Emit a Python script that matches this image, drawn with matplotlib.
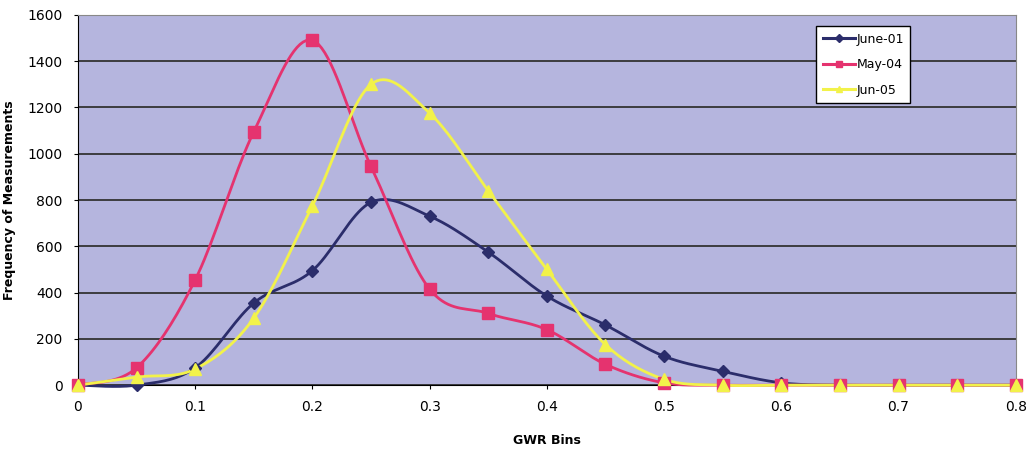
import numpy as np
import matplotlib
matplotlib.use("Agg")
import matplotlib.pyplot as plt

# GWR bins and frequency per survey
bins = [0, 0.05, 0.1, 0.15, 0.2, 0.25, 0.3, 0.35, 0.4, 0.45, 0.5, 0.55, 0.6, 0.65, 0.7, 0.75, 0.8]
june_01 = [0, 0, 75, 355, 495, 790, 730, 575, 385, 260, 125, 60, 10, 0, 0, 0, 0]
may_04 = [0, 75, 455, 1095, 1490, 945, 415, 310, 240, 90, 10, 0, 0, 0, 0, 0, 0]
jun_05 = [0, 35, 70, 290, 775, 1300, 1175, 840, 500, 175, 25, 0, 0, 0, 0, 0, 0]
labels = ["June-01", "May-04", "Jun-05"]


def smooth(x, y, n=20):
    # excel-like smoothed line (catmull-rom through the points)
    x = np.asarray(x, float)
    y = np.asarray(y, float)
    px = np.concatenate([[x[0]], x, [x[-1]]])
    py = np.concatenate([[y[0]], y, [y[-1]]])
    xs, ys = [], []
    t = np.linspace(0, 1, n)
    for i in range(1, len(px) - 2):
        for p, out in ((px, xs), (py, ys)):
            p0, p1, p2, p3 = p[i - 1], p[i], p[i + 1], p[i + 2]
            c1 = p1 + (p2 - p0) / 6
            c2 = p2 - (p3 - p1) / 6
            out.extend((1 - t) ** 3 * p1 + 3 * (1 - t) ** 2 * t * c1
                       + 3 * (1 - t) * t ** 2 * c2 + t ** 3 * p2)
    return np.array(xs), np.array(ys)


fig = plt.figure(figsize=(10.26, 4.51), dpi=100)
ax = fig.add_axes([0.076, 0.146, 0.914, 0.821])
ax.set_facecolor("#b5b5de")

styles = [
    (june_01, "#2b2d6b", "D", 6),
    (may_04, "#e5336f", "s", 8),
    (jun_05, "#f2f24a", "^", 9),
]
for (vals, col, mk, ms), lab in zip(styles, labels):
    sx, sy = smooth(bins, vals)
    ax.plot(sx, sy, color=col, lw=2.0, clip_on=False, zorder=3)
    ax.plot(bins, vals, ls="none", marker=mk, ms=ms, color=col,
            mec=col, clip_on=False, zorder=4)
    ax.plot([], [], color=col, lw=2.2, marker=mk, ms=4, label=lab)

ax.set_xlim(0, 0.8)
ax.set_ylim(0, 1600)
ax.set_xticks(np.arange(0, 0.81, 0.1))
ax.set_xticklabels(["0", "0.1", "0.2", "0.3", "0.4", "0.5", "0.6", "0.7", "0.8"])
ax.set_yticks(range(0, 1601, 200))
ax.grid(axis="y", color="#333333", lw=1.3)
ax.set_axisbelow(True)
for s in ax.spines.values():
    s.set_color("#888888")
ax.spines["left"].set_color("black")
ax.spines["bottom"].set_color("black")
ax.tick_params(labelsize=10, length=3, direction="out", pad=8)

ax.set_xlabel("GWR Bins", fontsize=9, fontweight="bold", labelpad=14)
ax.set_ylabel("Frequency of Measurements", fontsize=9, fontweight="bold", labelpad=8)

leg = ax.legend(loc="upper right", bbox_to_anchor=(0.894, 0.986), fontsize=9,
                frameon=True, fancybox=False, handlelength=2.6, handletextpad=0.1,
                borderpad=0.5, labelspacing=1.0)
leg.get_frame().set_edgecolor("black")
leg.get_frame().set_facecolor("white")
leg.get_frame().set_alpha(1)

fig.savefig("out.png", dpi=100)
